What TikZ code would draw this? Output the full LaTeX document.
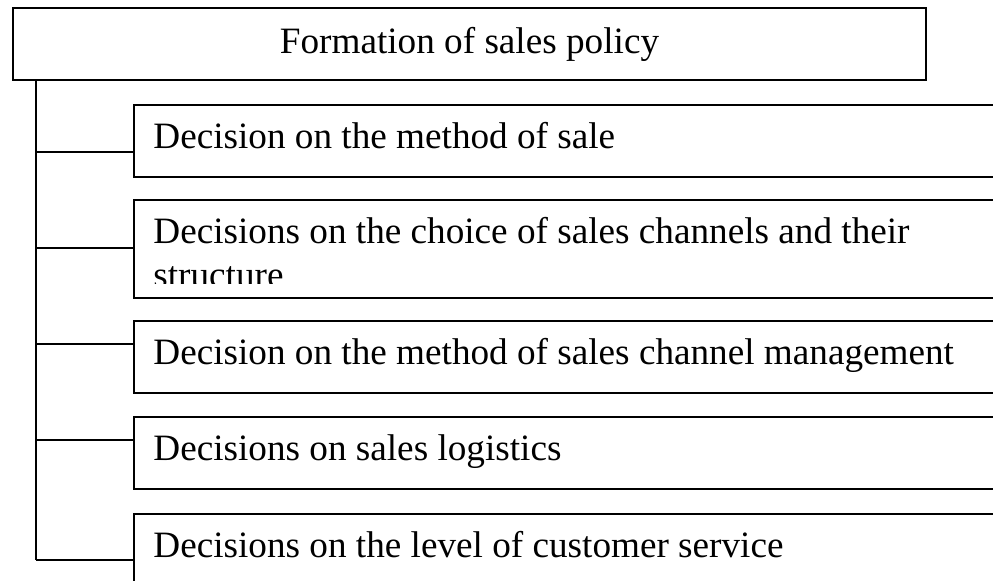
\documentclass[tikz,border=0pt]{standalone}
\usepackage{fontspec}
\setmainfont{Liberation Serif}
\usetikzlibrary{positioning, calc}

\begin{document}
\begin{tikzpicture}[
    x=0.5pt, y=-0.5pt,
    % Styling
    frame line/.style={line width=1pt, draw=black},
    head box/.style={
        frame line,
        minimum width=456.5pt,
        minimum height=36pt,
        inner sep=0pt,
        font=\fontsize{18.6}{22}\selectfont
    },
    % Boxes run off the right edge of the page
    item box/.style={
        frame line,
        anchor=north west,
        minimum width=450pt,
        inner sep=0pt
    },
    item text/.style={
        anchor=base west,
        inner sep=0pt,
        font=\fontsize{18.6}{22}\selectfont
    }
]

% --- Page frame (cuts the boxes on the right and bottom) ---
\clip (0,0) rectangle (993,581);

% --- Title ---
\node[head box] (root) at (469.5,44) {Formation of sales policy};
\coordinate (trunk) at ($(root.south west)+(24,0)$);

% --- The branches ---
% Format: index / top / height / joint / text
\foreach \i/\top/\ht/\join/\txt in {
    1/104/72/152/{Decision on the method of sale},
    2/199/98/248/{\vtop{\hbox{Decisions on the choice of sales channels and their}\hbox{structure}}},
    3/320/72/344/{Decision on the method of sales channel management},
    4/416/72/440/{Decisions on sales logistics},
    5/513/72/560/{Decisions on the level of customer service}} {

    % 1. The box itself
    \node[item box, minimum height=\ht*0.5pt] (box-\i) at (133,\top) {};
    \coordinate (join-\i) at (133,\join);

    % 2. The text, cut off at the inner margin of the box
    \begin{scope}
        \clip (133,\top) rectangle (1000,{\top+\ht-13});
        \node[item text] (txt-\i) at (153,{\top+45}) {\txt};
    \end{scope}

    % 3. The branch line
    \draw[frame line] (trunk |- join-\i) -- (join-\i);
}

% --- The trunk ---
\draw[frame line] (trunk) -- (trunk |- join-5);

\end{tikzpicture}
\end{document}
